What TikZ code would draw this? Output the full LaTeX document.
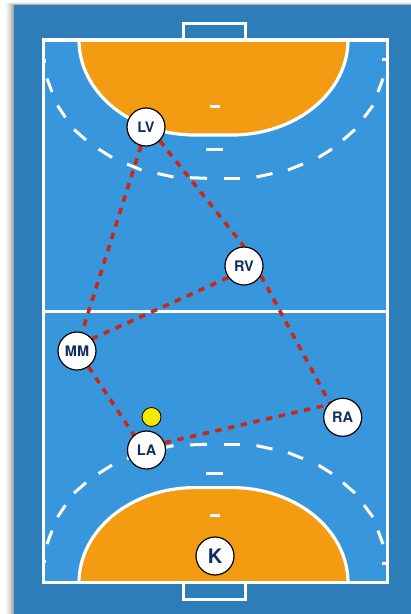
\documentclass[tikz,border=0pt]{standalone}
\usepackage{fontspec}
\setmainfont{TeX Gyre Heros}
\definecolor{panelblue}{HTML}{2C7DB8}
\definecolor{courtblue}{HTML}{3897DC}
\definecolor{areaorange}{HTML}{F39C12}
\definecolor{passred}{HTML}{C8281A}
\definecolor{navytext}{HTML}{0F2E5E}
\definecolor{ballyellow}{HTML}{F5EA00}
\tikzset{
  player/.style={circle,draw=black,line width=1.2pt,fill=white,minimum size=38pt,inner sep=0pt,text=navytext,font=\bfseries\fontsize{14.5}{16}\selectfont},
  pass/.style={draw=passred,line width=3.6pt,dash pattern=on 6.5pt off 6.5pt},
  whiteline/.style={draw=white,line width=3.2pt},
  thinwhite/.style={draw=white,line width=3pt}
}
\newcommand{\halfmarks}{%
  \draw[whiteline,fill=panelblue] (183.5,40) -- (183.5,23.5) -- (245.5,23.5) -- (245.5,40);
  \draw[whiteline,fill=areaorange] (79,40) .. controls (79,92.5) and (131,135) .. (195,135) -- (232,135) .. controls (296,135) and (348,92.5) .. (348,40);
  \draw[thinwhite] (209.5,106.7) -- (219.5,106.7);
  \draw[thinwhite] (206,149) -- (223,149);
  \draw[whiteline] (382,59.5) -- (387,59.5);
  \draw[whiteline] (44,61) -- (46,61);
  \foreach \ax/\ay/\bx/\by in {47/78.5/52/92,57.5/105.5/65.5/117.5,74/129.5/86/140,98.5/149/112/157.5,127/164/141.5/170,157.5/173.5/173.5/177,190/177.7/207/178.3,223.5/178/240/178,256.5/177/272.5/173.5,288/170/303/164,318.5/157.5/332/149,343/140/355/129.5,364/117.5/373/105.5,378/92/383/78.5}{
    \draw[thinwhite] (\ax,\ay) -- (\bx,\by);
  }
}
\begin{document}
\begin{tikzpicture}[x=1pt,y=-1pt]
\useasboundingbox (0,0) rectangle (411,614);
\fill[white] (0,0) rectangle (411,614);
% soft shadow of the panel
\foreach \d/\o in {9/0.015,8/0.02,7/0.03,6/0.035,5/0.04,4/0.05,3/0.06,2/0.07,1/0.08}{
  \fill[black,opacity=\o] (14-\d,5-\d/3) rectangle (411,614);
}
\fill[panelblue] (14,5) rectangle (411,614);
\fill[courtblue] (43,40) rectangle (388,582.5);
\halfmarks
\begin{scope}[yshift=-622.6pt,yscale=-1]
\halfmarks
\end{scope}
\draw[whiteline] (43,311.3) -- (388,311.3);
\draw[whiteline] (43.5,40) rectangle (387.5,582.5);
% players
\path (146,127) node[player,name=LV,draw=none,fill=none] {}
      (244,266) node[player,name=RV,draw=none,fill=none] {}
      (77,351) node[player,name=MM,draw=none,fill=none] {}
      (342.7,417.3) node[player,name=RA,draw=none,fill=none] {}
      (146.5,450) node[player,name=LA,draw=none,fill=none] {};
\draw[pass] (LV.-105) -- (MM.75);
\draw[pass] (LV.-45) -- (RV.90);
\draw[pass] (RV.216) -- (MM.39);
\draw[pass] (RV.-30) -- (RA.132);
\draw[pass] (MM.-54) -- (LA.130);
\draw[pass] (LA.22) -- (RA.141);
\node[player] at (LV) {LV};
\node[player] at (RV) {RV};
\node[player] at (MM) {MM};
\node[player] at (RA) {RA};
\node[player] at (LA) {LA};
\node[player,font=\bfseries\fontsize{20}{22}\selectfont] (K) at (215,556) {K};
\node[circle,draw=black,line width=0.8pt,fill=ballyellow,minimum size=19pt,inner sep=0pt] (ball) at (151.5,417) {};
\end{tikzpicture}
\end{document}
